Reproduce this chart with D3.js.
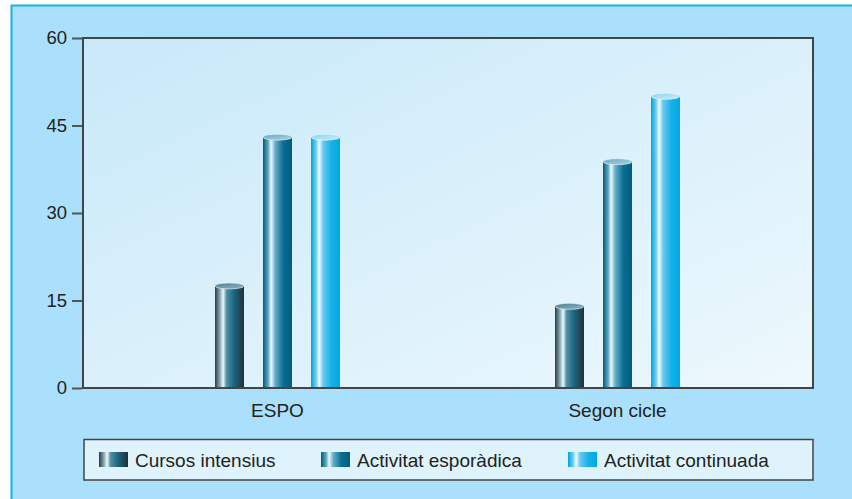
<!DOCTYPE html>
<html lang="ca">
<head>
<meta charset="utf-8">
<title>Chart</title>
<script src="https://cdn.jsdelivr.net/npm/d3@7"></script>
<style>
  html, body { margin: 0; padding: 0; background: #ffffff; }
  svg { display: block; font-family: "Liberation Sans", Arial, sans-serif; }
</style>
</head>
<body>
<script>
var groups = ['ESPO', 'Segon cicle'];
var series = ['Cursos intensius', 'Activitat esporàdica', 'Activitat continuada'];
var values = {
  'ESPO': [17.5, 43, 43],
  'Segon cicle': [14, 38.8, 50]
};
var yTicks = [0, 15, 30, 45, 60];

var w = 852, h = 499;
var margin = {left: 83, right: 39, top: 38, bottom: 111};
var fontSize = 18.5;

var svg = d3.select('body').append('svg').attr('width', w).attr('height', h);
var defs = svg.append('defs');

// colour stops for each cylinder body, left to right
var bodyStops = [
  [['0%', '#2b3a45'], ['18%', '#8fb0bd'], ['28%', '#f2f8fa'], ['40%', '#4f8fa6'], ['65%', '#1d6680'], ['100%', '#22303a']],
  [['0%', '#005a7c'], ['18%', '#5fa9c6'], ['28%', '#f0f9fc'], ['42%', '#64afcc'], ['70%', '#0b6d90'], ['100%', '#005d80']],
  [['0%', '#00a3dc'], ['18%', '#6fd0f3'], ['28%', '#f2fbff'], ['42%', '#66c9f0'], ['70%', '#16b2ea'], ['100%', '#00a8e2']]
];
var topColours = [['#4f7f93', '#8db6c6'], ['#6aa7bf', '#a9d3e2'], ['#8cd4f2', '#c8ecfb']];

bodyStops.forEach(function(stops, i) {
  var g = defs.append('linearGradient').attr('id', 'body' + i)
    .attr('x1', '0%').attr('x2', '100%').attr('y1', '0%').attr('y2', '0%');
  stops.forEach(function(s) { g.append('stop').attr('offset', s[0]).attr('stop-color', s[1]); });
  var t = defs.append('linearGradient').attr('id', 'top' + i)
    .attr('x1', '0%').attr('x2', '100%').attr('y1', '0%').attr('y2', '100%');
  t.append('stop').attr('offset', '0%').attr('stop-color', topColours[i][0]);
  t.append('stop').attr('offset', '100%').attr('stop-color', topColours[i][1]);
});

var bg = defs.append('linearGradient').attr('id', 'plotbg')
  .attr('x1', '0%').attr('y1', '0%').attr('x2', '100%').attr('y2', '100%');
bg.append('stop').attr('offset', '0%').attr('stop-color', '#c8e9f9');
bg.append('stop').attr('offset', '100%').attr('stop-color', '#edf8fd');

// outer frame
svg.append('rect').attr('x', 11).attr('y', 5).attr('width', w - 11).attr('height', h - 5)
  .attr('fill', '#aae0fb');
svg.append('line').attr('x1', 11.5).attr('x2', 11.5).attr('y1', 5).attr('y2', h)
  .attr('stroke', '#12b1ec').attr('stroke-width', 2);
svg.append('line').attr('x1', 11).attr('x2', w).attr('y1', 5.5).attr('y2', 5.5)
  .attr('stroke', '#12b1ec').attr('stroke-width', 2);

var x0 = margin.left, x1 = w - margin.right;
var yTop = margin.top, yBot = h - margin.bottom;

var yScale = d3.scaleLinear().domain([0, 60]).range([yBot, yTop]);
var gScale = d3.scaleBand().domain(groups).range([107.5, 787.5]);
var sScale = d3.scalePoint().domain(series).range([-48, 48]);
var barW = 29, ry = 3;

svg.append('rect').attr('x', x0).attr('y', yTop).attr('width', x1 - x0).attr('height', yBot - yTop)
  .attr('fill', 'url(#plotbg)').attr('stroke', '#444').attr('stroke-width', 2);

// y axis
var yAxis = d3.axisLeft(yScale).tickValues(yTicks).tickSize(10).tickPadding(5);
var ya = svg.append('g').attr('transform', 'translate(' + (x0 - 1) + ',0)').call(yAxis);
ya.select('.domain').remove();
ya.selectAll('.tick line').attr('stroke', '#555').attr('stroke-width', 2);
ya.selectAll('.tick text').attr('fill', '#222').attr('font-size', fontSize);

// x labels
var xAxis = d3.axisBottom(gScale).tickSize(0).tickPadding(16);
var xa = svg.append('g').attr('transform', 'translate(0,' + yBot + ')').call(xAxis);
xa.select('.domain').remove();
xa.selectAll('.tick text').attr('fill', '#222').attr('font-size', 19);

// cylinders
var bars = [];
groups.forEach(function(g) {
  values[g].forEach(function(v, i) {
    bars.push({group: g, series: series[i], idx: i, value: v});
  });
});

var cyl = svg.append('g').selectAll('g').data(bars).enter().append('g');
cyl.append('rect')
  .attr('x', function(d) { return gScale(d.group) + gScale.bandwidth() / 2 + sScale(d.series) - barW / 2; })
  .attr('y', function(d) { return yScale(d.value); })
  .attr('width', barW)
  .attr('height', function(d) { return yBot - 1 - yScale(d.value); })
  .attr('fill', function(d) { return 'url(#body' + d.idx + ')'; });
cyl.append('ellipse')
  .attr('cx', function(d) { return gScale(d.group) + gScale.bandwidth() / 2 + sScale(d.series); })
  .attr('cy', function(d) { return yScale(d.value); })
  .attr('rx', barW / 2)
  .attr('ry', ry)
  .attr('fill', function(d) { return 'url(#top' + d.idx + ')'; })
  .attr('stroke', '#e8f6fb').attr('stroke-width', 0.6);

// redraw the baseline over the bar feet
svg.append('line').attr('x1', x0).attr('x2', x1).attr('y1', yBot).attr('y2', yBot)
  .attr('stroke', '#444').attr('stroke-width', 2);

// legend
var leg = svg.append('g');
leg.append('rect').attr('x', 84).attr('y', 439.5).attr('width', 729).attr('height', 40.5)
  .attr('fill', '#dff3fc').attr('stroke', '#444').attr('stroke-width', 1.5);
var legX = [99, 321, 568];
var li = leg.selectAll('g.item').data(series).enter().append('g')
  .attr('class', 'item')
  .attr('transform', function(d, i) { return 'translate(' + legX[i] + ',452)'; });
li.append('rect').attr('width', 29).attr('height', 15)
  .attr('fill', function(d, i) { return 'url(#body' + i + ')'; });
li.append('text').attr('x', 36).attr('y', 14.5).attr('font-size', 19).attr('fill', '#222')
  .text(function(d) { return d; });
</script>
</body>
</html>
